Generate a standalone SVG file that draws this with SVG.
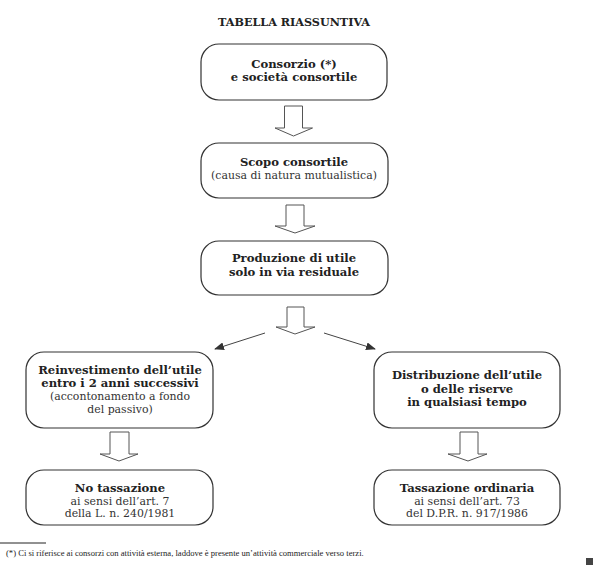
<svg xmlns="http://www.w3.org/2000/svg" width="600" height="572" viewBox="0 0 600 572">
<defs>
<style>
.box{fill:#fff;stroke:#333;stroke-width:1.2}
.blk{fill:#fff;stroke:#555;stroke-width:1}
.ln{stroke:#444;stroke-width:1;fill:none}
text{font-family:"DejaVu Serif","Liberation Serif",serif;fill:#222;text-anchor:middle}
.b{font-weight:bold;font-size:11.6px}
.r{font-size:10.9px;fill:#333}
.t{font-weight:bold;font-size:11.2px}
.fn{font-family:"Liberation Serif","Times New Roman",serif;font-size:8.6px;text-anchor:start}
</style>
<marker id="ah" markerWidth="10" markerHeight="8" refX="9" refY="4" orient="auto" markerUnits="userSpaceOnUse">
<path d="M0,0 L10,4 L0,8 Z" fill="#333"/>
</marker>
</defs>
<rect width="600" height="572" fill="#fff"/>
<text class="t" x="294" y="26">TABELLA RIASSUNTIVA</text>

<g id="n1">
<rect class="box" x="201" y="44" width="186" height="56" rx="18"/>
<text class="b" x="294" y="68">Consorzio (*)</text>
<text class="b" x="294" y="81">e società consortile</text>
</g>
<g id="n2">
<rect class="box" x="201" y="143" width="187" height="55" rx="18"/>
<text class="b" x="294" y="166">Scopo consortile</text>
<text class="r" x="294" y="179">(causa di natura mutualistica)</text>
</g>
<g id="n3">
<rect class="box" x="201" y="241" width="187" height="54" rx="18"/>
<text class="b" x="294" y="262">Produzione di utile</text>
<text class="b" x="294" y="276">solo in via residuale</text>
</g>
<g id="n4">
<rect class="box" x="26" y="352" width="187" height="76" rx="18"/>
<text class="b" x="120" y="374">Reinvestimento dell’utile</text>
<text class="b" x="120" y="387">entro i 2 anni successivi</text>
<text class="r" x="120" y="400">(accontonamento a fondo</text>
<text class="r" x="120" y="413">del passivo)</text>
</g>
<g id="n5">
<rect class="box" x="374" y="352" width="186" height="76" rx="18"/>
<text class="b" x="467" y="379">Distribuzione dell’utile</text>
<text class="b" x="467" y="393">o delle riserve</text>
<text class="b" x="467" y="406">in qualsiasi tempo</text>
</g>
<g id="n6">
<rect class="box" x="26" y="470" width="187" height="55" rx="18"/>
<text class="b" x="120" y="492">No tassazione</text>
<text class="r" x="120" y="505">ai sensi dell’art. 7</text>
<text class="r" x="120" y="517">della L. n. 240/1981</text>
</g>
<g id="n7">
<rect class="box" x="374" y="470" width="186" height="55" rx="18"/>
<text class="b" x="467" y="492">Tassazione ordinaria</text>
<text class="r" x="467" y="505">ai sensi dell’art. 73</text>
<text class="r" x="467" y="517">del D.P.R. n. 917/1986</text>
</g>

<g id="connectors">
<path class="blk" d="M284.5,106 H302.5 V128 H312.5 L293.5,136 L275,128 H284.5 Z"/>
<path class="blk" d="M286,205 H304 V226 H315 L295,233 L275,226 H286 Z"/>
<path class="blk" d="M287,307 H304 V327 H315 L295,334 L276,327 H287 Z"/>
<path class="blk" d="M110,432 H129 V454 H138 L119,461 L100,454 H110 Z"/>
<path class="blk" d="M460,432 H478 V454 H487 L468,461 L448,454 H460 Z"/>
<line class="ln" x1="265" y1="333" x2="215" y2="349" marker-end="url(#ah)"/>
<line class="ln" x1="324" y1="333" x2="375" y2="349" marker-end="url(#ah)"/>
</g>

<line x1="0" y1="543" x2="46" y2="543" stroke="#222" stroke-width="1"/>
<text class="fn" x="6" y="556">(*) Ci si riferisce ai consorzi con attività esterna, laddove è presente un’attività commerciale verso terzi.</text>
<rect x="586" y="558" width="7" height="7" fill="#444"/>
</svg>
